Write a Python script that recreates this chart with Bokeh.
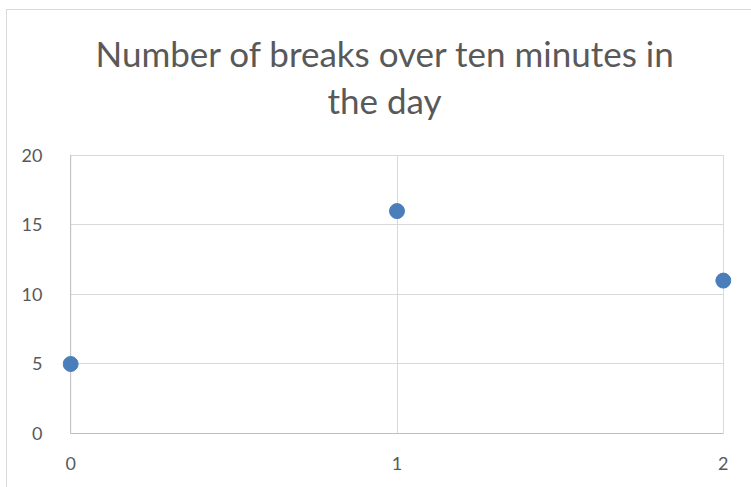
from bokeh.plotting import figure
from bokeh.models import Title, Range1d, FixedTicker, ColumnDataSource, Grid, Span
from bokeh.embed import file_html
from bokeh.resources import INLINE

# Data
x_values = [0, 1, 2]
y_values = [5, 16, 11]
x_ticks = [0, 1, 2]
y_ticks = [0, 5, 10, 15, 20]
title_line1 = "Number of breaks over ten minutes in"
title_line2 = "the day"

src = ColumnDataSource(data=dict(x=x_values, y=y_values))

FONT = "Lato"
TXT = "#595959"
GRID = "#d9d9d9"
AXIS = "#bfbfbf"

x_lo, x_hi = x_ticks[0], x_ticks[-1]
y_lo, y_hi = y_ticks[0], y_ticks[-1]
xpad = 0.025
ypad = 0.07

p = figure(width=744, height=477, output_backend="svg", toolbar_location=None,
           x_range=Range1d(x_lo - xpad, x_hi + xpad), y_range=Range1d(y_lo, y_hi + ypad),
           min_border_left=55, min_border_right=20, min_border_top=0,
           min_border_bottom=54)
p.styles = {"outline": "1px solid #d9d9d9", "margin-left": "7px", "margin-top": "10px"}

gap = Title(text=" ", text_font=FONT, text_font_size="10px", standoff=18)
t2 = Title(text=title_line2, align="left", text_font=FONT, text_font_size="35px",
           text_color=TXT, text_font_style="normal", standoff=3, offset=265)
t1 = Title(text=title_line1, align="left", text_font=FONT, text_font_size="35px",
           text_color=TXT, text_font_style="normal", standoff=3, offset=33)
top = Title(text=" ", text_font=FONT, text_font_size="10px", standoff=4)
p.add_layout(gap, "above")
p.add_layout(t2, "above")
p.add_layout(t1, "above")
p.add_layout(top, "above")

p.outline_line_color = None
p.background_fill_color = "white"
p.border_fill_color = "white"

for ax in (p.xaxis, p.yaxis):
    ax.axis_line_color = AXIS
    ax.axis_line_width = 1
    ax.major_tick_line_color = None
    ax.minor_tick_line_color = None
    ax.major_label_text_font = FONT
    ax.major_label_text_font_size = "18px"
    ax.major_label_text_color = TXT
p.xaxis.ticker = FixedTicker(ticks=x_ticks)
p.yaxis.ticker = FixedTicker(ticks=y_ticks)
p.xaxis.bounds = (x_lo, x_hi)
p.yaxis.axis_line_color = None
p.xaxis.major_label_standoff = 17
p.yaxis.major_label_standoff = 14

p.xgrid.ticker = FixedTicker(ticks=x_ticks)
p.ygrid.ticker = FixedTicker(ticks=y_ticks)
p.xgrid.grid_line_color = GRID
p.ygrid.grid_line_color = GRID
p.xgrid.grid_line_width = 1
p.ygrid.grid_line_width = 1
if "cross_bounds" in Grid.properties():
    p.ygrid.cross_bounds = (x_lo, x_hi)
    p.xgrid.cross_bounds = (y_lo, y_hi)
else:
    p.ygrid.grid_line_color = None
    p.segment(x0=[x_lo] * len(y_ticks), x1=[x_hi] * len(y_ticks), y0=y_ticks, y1=y_ticks,
              line_color=GRID, line_width=1, level="underlay")

# left value axis line at x = 0
p.add_layout(Span(location=x_lo, dimension="height", line_color=AXIS, line_width=1,
                  level="underlay"))

p.scatter("x", "y", source=src, size=15, fill_color="#4a7ebb", line_color="#4a7ebb")

open("out.html", "w").write(file_html(p, INLINE))
